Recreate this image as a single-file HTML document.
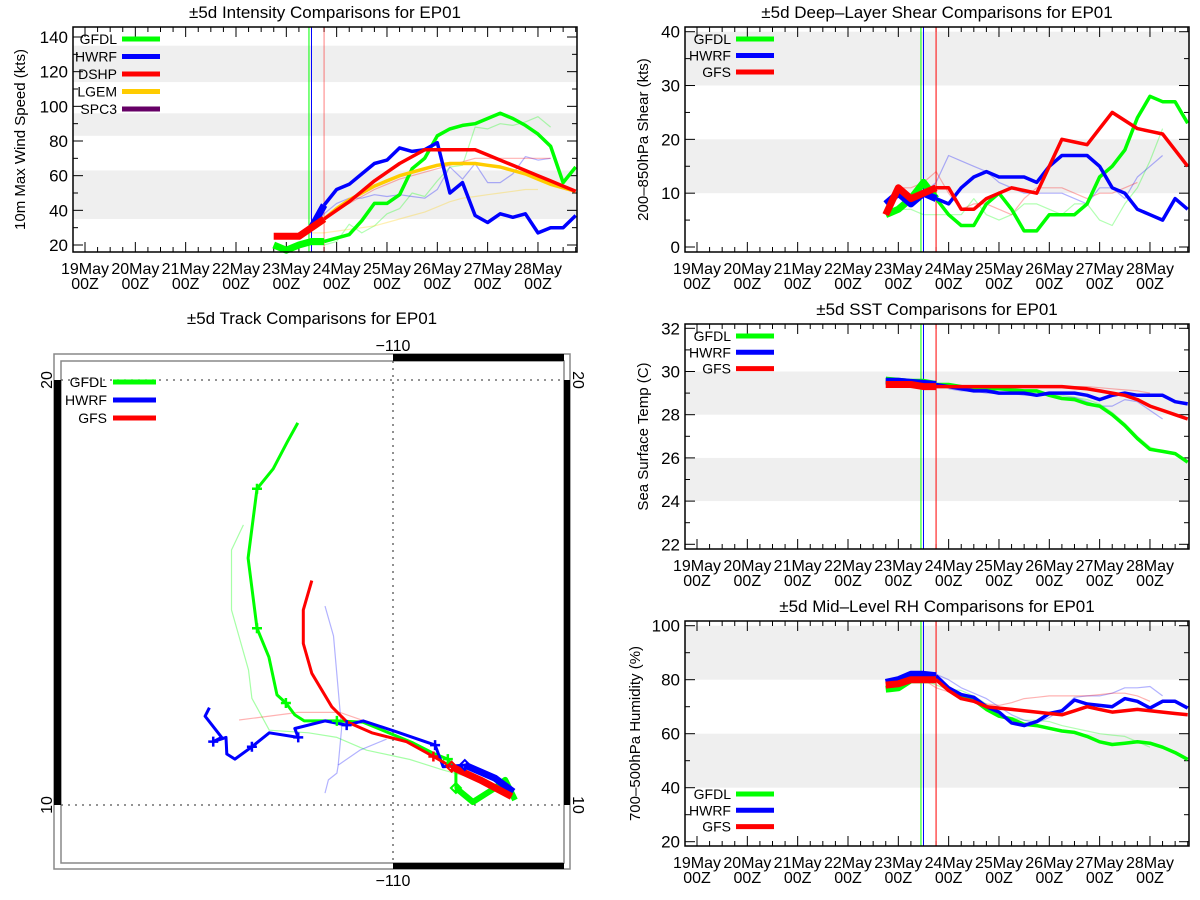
<!DOCTYPE html>
<html><head><meta charset="utf-8"><style>
html,body{margin:0;padding:0;background:#fff;}
svg{display:block;font-family:"Liberation Sans",sans-serif;}
</style></head><body>
<svg id="fig" width="1200" height="900" viewBox="0 0 1200 900" xmlns="http://www.w3.org/2000/svg"></svg>
<script>
// ---------- DATA ----------
const dayLabels=['19May','20May','21May','22May','23May','24May','25May','26May','27May','28May'];
const intGfdl=[20,17,20,22,22,24,26,34,44,44,49,64,70,83,87,89,90,93,96,93,89,84,77,56,65];
const intHwrf=[30,43,52,55,61,67,69,76,74,75,79,50,56,37,33,38,36,38,27,30,30,37];
const intDshp=[25,25,25,30,35,40,45,51,57,62,67,71,75,75,75,75,75,72,69,66,63,60,57,54,51];
const intLgem=[30,35,41,46,50,54,57,60,62,64,66,67,67,67,66,65,63,61,58,55,53,51];
const intGfdlOld=[20,20,22,32,27,31,38,41,50,48,57,65,66,88,87,90,89,91,94,88];
const intHwrfOld=[30,38,44,47,47,49,48,49,48,47,52,65,58,67,56,56,61,71,69,70];
const intDshpOld=[28,34,40,44,48,52,55,58,60,62,64,66,68,70,70,70,70,70,70,70];
const intLgemOld=[26,27,27,28,29,30,31,33,35,37,39,42,45,47,48,49,50,51,52,52];
const shGfdl=[6,7,9,12,9,6,4,4,8,10,7,3,3,6,6,6,8,13,15,18,24,28,27,27,23];
const shHwrf=[8,10,8,10,9,8,11,13,14,13,13,13,12,15,17,17,17,15,11,10,7,6,5,9,7];
const shGfs=[6,11,9,10,11,11,7,7,9,10,11,10.5,10,15,20,19.5,19,22,25,23.5,22,21.5,21,18,15];
const shGfdlOld=[7,7,6,6,6,6,9,6,5,6,8,8,7,6,8,8,5,4,8,11,16,22];
const shHwrfOld=[10,9,10,12,17,16,15,14,12,11,10,10,10,10,9,8,11,11,9,13,15,17];
const shGfsOld=[11,11,12,14,10,7,8,8,7,6,9,11,11,11,10,9,10,10,11,12];
const sstGfdl=[29.6,29.55,29.5,29.5,29.4,29.4,29.3,29.2,29.2,29.2,29.15,29.1,29.1,28.9,28.75,28.7,28.5,28.4,28.0,27.5,26.9,26.4,26.3,26.2,25.8];
const sstHwrf=[29.55,29.55,29.5,29.45,29.4,29.3,29.2,29.1,29.1,29.0,29.0,29.0,28.9,29.0,29.0,29.0,28.9,28.7,28.9,29.0,28.9,28.9,28.9,28.6,28.5];
const sstGfs=[29.4,29.4,29.4,29.3,29.3,29.3,29.3,29.3,29.3,29.3,29.3,29.3,29.3,29.3,29.3,29.25,29.2,29.1,29.0,28.9,28.7,28.4,28.2,28.0,27.8];
const sstGfdlOld=[29.3,29.3,29.3,29.2,29.2,29.1,29.1,29.0,28.9,28.9,28.8,28.7,28.5,28.1,27.6,27.0,26.5,26.3];
const sstHwrfOld=[29.2,29.1,29.1,29.0,29.0,29.0,28.9,28.9,28.9,28.8,28.8,28.6,28.4,28.4,28.7,28.6,28.2,27.8];
const sstGfsOld=[29.3,29.3,29.3,29.3,29.3,29.3,29.3,29.3,29.3,29.3,29.3,29.3,29.25,29.2,29.15,29.1,29.0];
const rhGfdl=[76.5,77,80,80,80,77,74,72.5,69,66.5,65.5,63.5,63,62,61,60.5,59,57,56,56.5,57,56.5,55,53,50.5];
const rhHwrf=[79,80,82,82,81.5,77,74.5,73.5,70,68,64,63,64.5,67.5,68.5,72.5,71,70.5,70,73,72,69.5,72,72,69.5];
const rhGfs=[78,78.5,80,80,80,76,73,72,70,69.5,69,68.5,68,67.5,67,68.5,70,69,68,68.5,69,68.5,68,67.5,67];
const rhGfdlOld=[83,80,78,76.5,76,74,71,67,66,65,65,64.5,63,62,61,60,59.5,59,57,55];
const rhHwrfOld=[83,82,80,77,75,73,70,67,65,64,66,69,73.5,74,74,75,77,77,77.5,74];
const rhGfsOld=[80,77,75.5,74,72,71,70.5,71.5,73,73.5,74,74,74,74,74.5,75,75,74,72];
const trkGfdlLon=[-107.13,-107.36,-107.60,-108.12,-108.52,-108.52,-108.71,-109.06,-109.53,-110.71,-111.32,-112.09,-112.31,-112.52,-112.73,-112.92,-113.20,-113.41,-113.20,-112.82,-112.49,-112.24];
const trkGfdlLat=[10.12,10.59,10.40,10.07,10.40,10.78,11.08,11.22,11.46,11.95,11.98,11.98,12.12,12.40,12.59,13.48,14.16,15.81,17.44,17.91,18.54,18.99];
const trkHwrfLon=[-107.17,-107.60,-108.31,-108.82,-109.01,-109.91,-110.70,-111.09,-111.60,-112.31,-112.23,-112.91,-113.32,-113.72,-113.91,-113.93,-114.23,-114.03,-114.42,-114.32];
const trkHwrfLat=[10.31,10.63,10.94,10.90,11.41,11.72,11.98,11.88,11.98,11.80,11.59,11.70,11.37,11.08,11.20,11.59,11.49,11.59,12.09,12.29];
const trkGfsLon=[-107.21,-107.95,-108.62,-109.05,-109.68,-110.50,-111.09,-111.44,-111.91,-112.11,-112.11,-111.91];
const trkGfsLat=[10.20,10.59,10.90,11.14,11.49,11.70,11.96,12.31,13.10,13.80,14.59,15.28];
const trkGfdlOldLon=[-107.95,-108.82,-109.60,-110.62,-111.32,-111.99,-112.91,-113.32,-113.40,-113.80,-113.80,-113.52];
const trkGfdlOldLat=[10.59,10.82,11.07,11.29,11.59,11.70,11.76,12.51,13.18,14.59,16.00,16.59];
const trkHwrfOldLon=[-110.15,-110.78,-111.29,-111.32,-111.52,-111.60];
const trkHwrfOldLat=[11.55,11.29,10.94,10.75,10.59,10.28];
const trkHwrfOld2Lon=[-111.29,-111.21,-111.40,-111.60];
const trkHwrfOld2Lat=[10.94,11.80,13.98,14.68];
const trkGfsOldLon=[-110.62,-111.25,-112.23,-113.62];
const trkGfsOldLat=[11.96,12.18,12.18,12.00];

// ---------- DRAWING ----------
const NS='http://www.w3.org/2000/svg';
const svg=document.getElementById('fig');
function mk(tag,attrs,parent){const e=document.createElementNS(NS,tag);for(const k in attrs)e.setAttribute(k,attrs[k]);(parent||svg).appendChild(e);return e;}
function txt(s,x,y,size,anchor,parent,rot){const t=mk('text',{x:x,y:y,'font-size':size,'text-anchor':anchor||'middle',fill:'#000'},parent);if(rot)t.setAttribute('transform','rotate('+rot+' '+x+' '+y+')');t.textContent=s;return t;}
const GREEN='#00ff00',BLUE='#0000ff',RED='#ff0000',ORANGE='#ffcc00',PURPLE='#660066';

function chart(c){
  const g=mk('g',{});
  
  
  const X=d=>c.xd0+50.33*d;
  const Y=v=>c.yb+(v-c.vb)*(c.yt-c.yb)/(c.vt-c.vb);
  c.bands.forEach(b=>{const r=mk('rect',{x:c.bx0,y:Y(b[1]),width:c.bx1-c.bx0,height:Y(b[0])-Y(b[1]),fill:'#efefef'},g);
    });
  const tt=txt(c.title,(c.bx0+c.bx1)/2,c.by0-9,17,'middle',g);
  
  for(let v=c.vmin;v<=c.vmax+1e-6;v+=c.minor){
    const y=Y(v);if(y<c.by0||y>c.by1)continue;
    const major=Math.abs((v-c.vmin)/c.major-Math.round((v-c.vmin)/c.major))<1e-6;
    const L=major?10:5;
    mk('line',{x1:c.bx0,x2:c.bx0+L,y1:y,y2:y,stroke:'#000','stroke-width':1},g);
    mk('line',{x1:c.bx1,x2:c.bx1-L,y1:y,y2:y,stroke:'#000','stroke-width':1},g);
    if(major){const t=txt(String(v),c.bx0-5,y+6,17,'end',g);}
  }
  for(let q=0;q*0.25<=9.9;q++){
    const d=q*0.25,x=X(d);if(x>c.bx1)break;
    const major=q%4===0,L=major?10:5;
    mk('line',{x1:x,x2:x,y1:c.by1,y2:c.by1-L,stroke:'#000','stroke-width':1},g);
    mk('line',{x1:x,x2:x,y1:c.by0,y2:c.by0+L,stroke:'#000','stroke-width':1},g);
  }
  dayLabels.forEach((s,i)=>{const x=X(i);
    const t1=txt(s,x,c.by1+22,16,'middle',g);
    const t2=txt('00Z',x,c.by1+37,16,'middle',g);});
  const yt=txt(c.ytitle,c.ytx,(c.by0+c.by1)/2,15,'middle',g,-90);
  
  c.old.forEach(s=>{const pts=s.v.map((v,i)=>X(s.t0+0.25*i).toFixed(1)+','+Y(v).toFixed(1)).join(' ');
    const p=mk('polyline',{points:pts,fill:'none',stroke:s.col,'stroke-width':1.2,'stroke-opacity':0.3,'stroke-linejoin':'round'},g);
    });
  c.vlines.forEach(v=>{const l=mk('line',{x1:X(v[0]),x2:X(v[0]),y1:c.by0,y2:c.by1,stroke:v[1],'stroke-width':1,'stroke-opacity':v[2]},g);
    });
  c.series.forEach(s=>{
    const P=s.v.map((v,i)=>[X(s.t0+0.25*i),Y(v)]);
    const k=Math.max(1,Math.round((4.75-s.t0)/0.25));
    const thick=P.slice(0,k+1).map(p=>p[0].toFixed(1)+','+p[1].toFixed(1)).join(' ');
    const rest=P.slice(k).map(p=>p[0].toFixed(1)+','+p[1].toFixed(1)).join(' ');
    const a=mk('polyline',{points:thick,fill:'none',stroke:s.col,'stroke-width':7,'stroke-linejoin':'round'},g);
    
    const b=mk('polyline',{points:rest,fill:'none',stroke:s.col,'stroke-width':3.5,'stroke-linejoin':'round'},g);
    
  });
  mk('rect',{x:c.bx0,y:c.by0,width:c.bx1-c.bx0,height:c.by1-c.by0,fill:'none',stroke:'#000','stroke-width':1.5},g);
  c.legend.forEach((e,i)=>{const y=c.ly+i*c.ldy;
    const t=txt(e[0],c.lx,y+5,14,'end',g);
    const l=mk('line',{x1:c.lx+5,x2:c.lx+43,y1:y,y2:y,stroke:e[1],'stroke-width':5},g);
    });
}

chart({name:'intensity-chart',title:'\u00b15d Intensity Comparisons for EP01',ytitle:'10m Max Wind Speed (kts)',ytx:25,
  bx0:73,bx1:577,by0:27,by1:252,xd0:85,vb:20,yb:245,vt:140,yt:37,vmin:20,vmax:140,major:20,minor:10,
  bands:[[114,135],[83,96],[35,63]],
  old:[{n:'gfdl',col:GREEN,t0:4.5,v:intGfdlOld},{n:'hwrf',col:BLUE,t0:4.5,v:intHwrfOld},{n:'dshp',col:RED,t0:4.5,v:intDshpOld},{n:'lgem',col:ORANGE,t0:4.25,v:intLgemOld}],
  vlines:[[4.45,GREEN,1],[4.5,BLUE,1],[4.75,RED,0.5]],
  series:[{n:'gfdl',col:GREEN,t0:3.75,v:intGfdl},{n:'lgem',col:ORANGE,t0:4.5,v:intLgem},{n:'hwrf',col:BLUE,t0:4.5,v:intHwrf},{n:'dshp',col:RED,t0:3.75,v:intDshp}],
  legend:[['GFDL',GREEN],['HWRF',BLUE],['DSHP',RED],['LGEM',ORANGE],['SPC3',PURPLE]],lx:117,ly:39,ldy:17.5});

chart({name:'shear-chart',title:'\u00b15d Deep\u2013Layer Shear Comparisons for EP01',ytitle:'200\u2013850hPa Shear (kts)',ytx:648,
  bx0:685,bx1:1189,by0:27,by1:252,xd0:697,vb:0,yb:247,vt:40,yt:31.7,vmin:0,vmax:40,major:10,minor:5,
  bands:[[30,40],[10,20]],
  old:[{n:'gfdl',col:GREEN,t0:4.0,v:shGfdlOld},{n:'hwrf',col:BLUE,t0:4.0,v:shHwrfOld},{n:'gfs',col:RED,t0:4.0,v:shGfsOld}],
  vlines:[[4.45,GREEN,1],[4.5,BLUE,1],[4.75,RED,1]],
  series:[{n:'gfdl',col:GREEN,t0:3.75,v:shGfdl},{n:'hwrf',col:BLUE,t0:3.75,v:shHwrf},{n:'gfs',col:RED,t0:3.75,v:shGfs}],
  legend:[['GFDL',GREEN],['HWRF',BLUE],['GFS',RED]],lx:731,ly:39,ldy:16.5});

chart({name:'sst-chart',title:'\u00b15d SST Comparisons for EP01',ytitle:'Sea Surface Temp (C)',ytx:648,
  bx0:685,bx1:1189,by0:324,by1:549,xd0:697,vb:22,yb:544.3,vt:32,yt:328.3,vmin:22,vmax:32,major:2,minor:1,
  bands:[[28,30],[24,26]],
  old:[{n:'gfdl',col:GREEN,t0:5.0,v:sstGfdlOld},{n:'hwrf',col:BLUE,t0:5.0,v:sstHwrfOld},{n:'gfs',col:RED,t0:5.0,v:sstGfsOld}],
  vlines:[[4.45,GREEN,1],[4.5,BLUE,1],[4.75,RED,1]],
  series:[{n:'gfdl',col:GREEN,t0:3.75,v:sstGfdl},{n:'hwrf',col:BLUE,t0:3.75,v:sstHwrf},{n:'gfs',col:RED,t0:3.75,v:sstGfs}],
  legend:[['GFDL',GREEN],['HWRF',BLUE],['GFS',RED]],lx:731,ly:336,ldy:16.3});

chart({name:'rh-chart',title:'\u00b15d Mid\u2013Level RH Comparisons for EP01',ytitle:'700\u2013500hPa Humidity (%)',ytx:640,
  bx0:685,bx1:1189,by0:621,by1:846,xd0:697,vb:20,yb:841.7,vt:100,yt:625.7,vmin:20,vmax:100,major:20,minor:10,
  bands:[[80,100],[40,60]],
  old:[{n:'gfdl',col:GREEN,t0:4.25,v:rhGfdlOld},{n:'hwrf',col:BLUE,t0:4.5,v:rhHwrfOld},{n:'gfs',col:RED,t0:4.5,v:rhGfsOld}],
  vlines:[[4.45,GREEN,1],[4.5,BLUE,1],[4.75,RED,1]],
  series:[{n:'gfdl',col:GREEN,t0:3.75,v:rhGfdl},{n:'hwrf',col:BLUE,t0:3.75,v:rhHwrf},{n:'gfs',col:RED,t0:3.75,v:rhGfs}],
  legend:[['GFDL',GREEN],['HWRF',BLUE],['GFS',RED]],lx:731,ly:794,ldy:16.3});

// ---------- TRACK MAP ----------
(function(){
  const g=mk('g',{});
  
  
  const PX=lon=>393+(lon+110)*42.5, PY=lat=>805-(lat-10)*42.5;
  const ox0=54,ox1=570,oy0=354,oy1=869,ix0=61,ix1=564,iy0=361,iy1=863;
  const t=txt('\u00b15d Track Comparisons for EP01',312,324,17,'middle',g);
  
  mk('rect',{x:ox0,y:oy0,width:ox1-ox0,height:oy1-oy0,fill:'none',stroke:'#888','stroke-width':1.5},g);
  mk('rect',{x:ix0,y:iy0,width:ix1-ix0,height:iy1-iy0,fill:'none',stroke:'#888','stroke-width':1.5},g);
  [[PX(-110),oy0,ix1-PX(-110),iy0-oy0],[PX(-110),iy1,ix1-PX(-110),oy1-iy1],[ox0,PY(20),ix0-ox0,PY(10)-PY(20)],[ix1,PY(20),ox1-ix1,PY(10)-PY(20)]]
   .forEach(r=>{const b=mk('rect',{x:r[0],y:r[1],width:r[2],height:r[3],fill:'#000'},g);});
  mk('line',{x1:PX(-110),x2:PX(-110),y1:iy0,y2:iy1,stroke:'#555','stroke-width':1.3,'stroke-dasharray':'2,5'},g);
  [20,10].forEach(l=>mk('line',{x1:ix0,x2:ix1,y1:PY(l),y2:PY(l),stroke:'#555','stroke-width':1.3,'stroke-dasharray':'2,5'},g));
  const l1=txt('\u2212110',PX(-110),351,16,'middle',g);
  const l2=txt('\u2212110',PX(-110),886,16,'middle',g);
  [20,10].forEach(l=>{
    const a=txt(String(l),52,PY(l),16,'middle',g,-90);
    const b=txt(String(l),573,PY(l),16,'middle',g,90);});
  function path(lons,lats,col,w,op,name){
    const pts=lons.map((lo,i)=>PX(lo).toFixed(1)+','+PY(lats[i]).toFixed(1)).join(' ');
    const p=mk('polyline',{points:pts,fill:'none',stroke:col,'stroke-width':w,'stroke-opacity':op,'stroke-linejoin':'round'},g);
    
  }
  function marks(lons,lats,col,crosses,diamonds){
    crosses.forEach(i=>{const x=PX(lons[i]),y=PY(lats[i]);
      const m=mk('path',{d:`M${x-5},${y}H${x+5}M${x},${y-5}V${y+5}`,stroke:col,'stroke-width':2.5,fill:'none'},g);
      });
    diamonds.forEach(i=>{const x=PX(lons[i]),y=PY(lats[i]);
      const m=mk('path',{d:`M${x},${y-5}L${x+5},${y}L${x},${y+5}L${x-5},${y}Z`,stroke:col,'stroke-width':2,fill:'none'},g);
      });
  }
  path(trkGfdlOldLon,trkGfdlOldLat,GREEN,1.2,0.35,'gfdl-previous-track');
  path(trkHwrfOldLon,trkHwrfOldLat,BLUE,1.2,0.3,'hwrf-previous-track');
  path(trkHwrfOld2Lon,trkHwrfOld2Lat,BLUE,1.2,0.3,'hwrf-previous-track');
  path(trkGfsOldLon,trkGfsOldLat,RED,1.2,0.3,'gfs-previous-track');
  path(trkGfdlLon,trkGfdlLat,GREEN,3,1,'gfdl-track');
  path(trkGfdlLon.slice(0,5),trkGfdlLat.slice(0,5),GREEN,6,1,'gfdl-track-early');
  path(trkHwrfLon,trkHwrfLat,BLUE,3,1,'hwrf-track');
  path(trkHwrfLon.slice(0,3),trkHwrfLat.slice(0,3),BLUE,7,1,'hwrf-track-early');
  path(trkGfsLon,trkGfsLat,RED,3,1,'gfs-track');
  path(trkGfsLon.slice(0,3),trkGfsLat.slice(0,3),RED,7,1,'gfs-track-early');
  marks(trkGfdlLon,trkGfdlLat,GREEN,[6,10,13,16,18],[4]);
  marks(trkHwrfLon,trkHwrfLat,BLUE,[4,7,10,12,16],[2]);
  marks(trkGfsLon,trkGfsLat,RED,[3],[2]);
  [['GFDL',GREEN],['HWRF',BLUE],['GFS',RED]].forEach((e,i)=>{const y=382+i*18;
    const tl=txt(e[0],107,y+5,14,'end',g);
    const l=mk('line',{x1:113,x2:156,y1:y,y2:y,stroke:e[1],'stroke-width':5},g);
    });
})();
</script>
</body></html>
